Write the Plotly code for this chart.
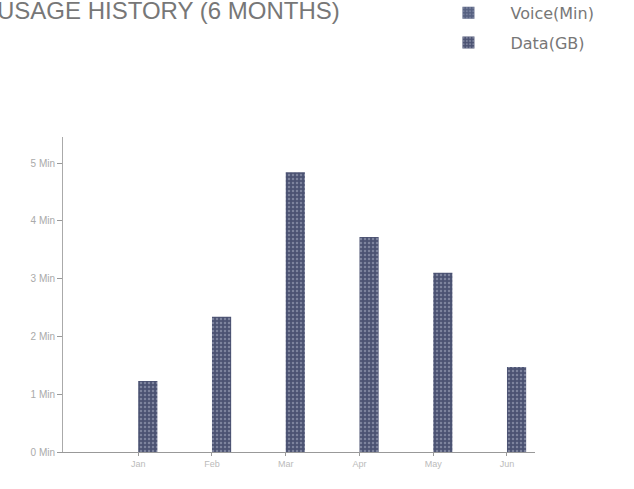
import plotly.graph_objects as go

months = ["Jan", "Feb", "Mar", "Apr", "May", "Jun"]
voice_min = [0, 0, 0, 0, 0, 0]
data_gb = [1.23, 2.34, 4.84, 3.72, 3.1, 1.47]
y_ticks = [0, 1, 2, 3, 4, 5]
y_tick_labels = ["0 Min", "1 Min", "2 Min", "3 Min", "4 Min", "5 Min"]
title_text = "USAGE HISTORY (6 MONTHS)"

fig = go.Figure()
fig.add_trace(go.Bar(
    x=months, y=voice_min, name="Voice(Min)", legendgroup="v",
    marker=dict(color="#556080", line=dict(width=0),
                pattern=dict(shape=".", fgcolor="#9aa2bc", bgcolor="#556080", size=4, solidity=0.3)),
))
fig.add_trace(go.Bar(
    x=months, y=data_gb, name="Data(GB)", legendgroup="d",
    marker=dict(color="#4b5272", line=dict(width=0),
                pattern=dict(shape=".", fgcolor="#aeb3c8", bgcolor="#4b5272", size=4, solidity=0.3)),
))

fig.update_layout(
    width=634, height=489,
    margin=dict(l=63, r=99, t=137, b=37, autoexpand=False),
    paper_bgcolor="white", plot_bgcolor="white",
    barmode="group", bargap=0.48, bargroupgap=0,
    font=dict(family="Liberation Sans, Arial, sans-serif", color="#888"),
    showlegend=True,
    legend=dict(x=0.77, y=1.448, xanchor="left", yanchor="top",
                font=dict(family="DejaVu Sans", size=16, color="#777"),
                itemwidth=74, tracegroupgap=6, bgcolor="rgba(0,0,0,0)"),
    xaxis=dict(range=[-1.02, 5.38], showline=True, linecolor="#999", linewidth=1,
               ticks="outside", ticklen=3, tickcolor="#999", showgrid=False,
               tickfont=dict(size=9, color="#bbb"), zeroline=False),
    yaxis=dict(range=[0, 5.45], showline=True, linecolor="#aaa", linewidth=1,
               ticks="outside", ticklen=5, tickcolor="#999", showgrid=False,
               tickvals=y_ticks, ticktext=y_tick_labels,
               tickfont=dict(size=10, color="#aaa"), zeroline=False),
    annotations=[dict(text=title_text, xref="paper", yref="paper",
                      x=-0.145, y=1.403, xanchor="left", yanchor="middle",
                      showarrow=False,
                      font=dict(family="Liberation Sans, Arial, sans-serif", size=24, color="#777"))],
)

fig.write_html("out.html")
